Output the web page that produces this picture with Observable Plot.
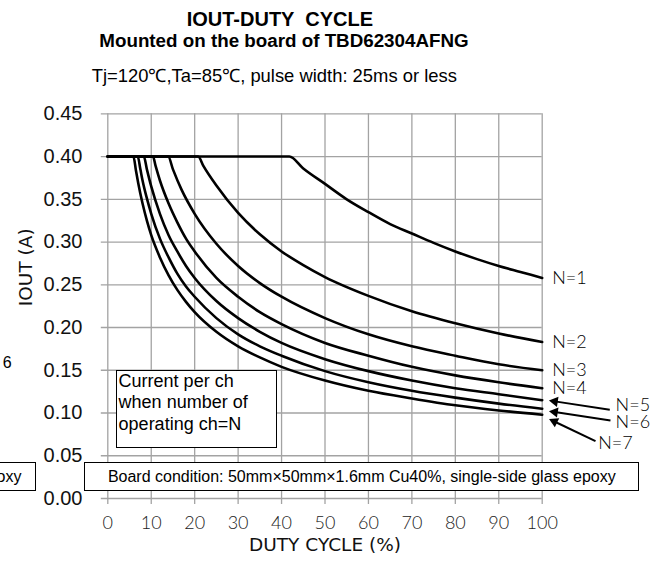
<!DOCTYPE html>
<html>
<head>
<meta charset="utf-8">
<script src="https://cdn.jsdelivr.net/npm/d3@7"></script>
<script src="https://cdn.jsdelivr.net/npm/@observablehq/plot@0.6"></script>
<style>
  html, body { margin: 0; padding: 0; background: #fff; }
  #wrap { position: relative; width: 672px; height: 562px; overflow: hidden;
          font-family: "Liberation Sans", Arial, sans-serif; color: #000; background: #fff; }
  #head { position: relative; height: 92px; }
  .t { position: absolute; white-space: pre; line-height: 0.85; }
  .box { position: absolute; box-sizing: border-box; border: 1.7px solid #000; background: #fff;
         white-space: nowrap; }
  svg { display: block; }
</style>
</head>
<body>
<div id="wrap">
  <div id="head">
    <div class="t" style="left:186.7px; top:11.1px; font-size:20px; font-weight:bold;">IOUT-DUTY  CYCLE</div>
    <div class="t" style="left:99.3px; top:32.5px; font-size:18.8px; font-weight:bold;">Mounted on the board of TBD62304AFNG</div>
    <div class="t" style="left:91.7px; top:68.3px; font-size:18.4px;">Tj=120℃,Ta=85℃, pulse width: 25ms or less</div>
  </div>
</div>
<script>
// ---- data ----
const seriesN = [1, 2, 3, 4, 5, 6, 7];

const duty1 = [0, 41.8, 45, 50, 55, 60, 65, 70, 75, 80, 85, 90, 95, 100];
const iout1 = [0.40, 0.40, 0.386, 0.368, 0.350, 0.335, 0.321, 0.310, 0.299, 0.289, 0.280, 0.272, 0.265, 0.258];

const duty2 = [0, 20.8, 22, 25, 30, 35, 40, 45, 50, 60, 70, 80, 90, 100];
const iout2 = [0.40, 0.40, 0.389, 0.366, 0.334, 0.309, 0.289, 0.273, 0.259, 0.237, 0.219, 0.205, 0.193, 0.183];

const duty3 = [0, 13.9, 15, 17, 20, 25, 30, 35, 40, 50, 60, 70, 80, 90, 100];
const iout3 = [0.40, 0.40, 0.385, 0.361, 0.333, 0.298, 0.272, 0.252, 0.236, 0.211, 0.192, 0.178, 0.167, 0.157, 0.150];

const duty4 = [0, 10.4, 11, 12, 14, 16, 18, 20, 25, 30, 35, 40, 50, 60, 70, 80, 90, 100];
const iout4 = [0.40, 0.40, 0.389, 0.372, 0.345, 0.323, 0.304, 0.289, 0.258, 0.236, 0.218, 0.204, 0.182, 0.167, 0.154, 0.144, 0.136, 0.129];

const duty5 = [0, 8.3, 9, 10, 12, 14, 16, 18, 20, 25, 30, 35, 40, 50, 60, 70, 80, 90, 100];
const iout5 = [0.40, 0.40, 0.385, 0.365, 0.333, 0.308, 0.289, 0.272, 0.258, 0.231, 0.211, 0.195, 0.182, 0.163, 0.149, 0.138, 0.129, 0.122, 0.115];

const duty6 = [0, 6.9, 7.5, 8, 9, 10, 12, 14, 16, 18, 20, 25, 30, 35, 40, 50, 60, 70, 80, 90, 100];
const iout6 = [0.40, 0.40, 0.385, 0.372, 0.351, 0.333, 0.304, 0.282, 0.263, 0.248, 0.236, 0.211, 0.192, 0.178, 0.167, 0.149, 0.136, 0.126, 0.118, 0.111, 0.105];

const duty7 = [0, 5.9, 6.5, 7, 8, 9, 10, 12, 14, 16, 18, 20, 25, 30, 35, 40, 50, 60, 70, 80, 90, 100];
const iout7 = [0.40, 0.40, 0.383, 0.369, 0.345, 0.325, 0.308, 0.282, 0.261, 0.244, 0.230, 0.218, 0.195, 0.178, 0.165, 0.154, 0.138, 0.126, 0.117, 0.109, 0.103, 0.098];

const xTicks = [0, 10, 20, 30, 40, 50, 60, 70, 80, 90, 100];
const yTicks = [0, 0.05, 0.10, 0.15, 0.20, 0.25, 0.30, 0.35, 0.40, 0.45];

const xLabel = "DUTY CYCLE (%)";
const yLabel = "IOUT (A)";
const noteText = ["Current per ch", "when number of", "operating ch=N"];
const boardText = "Board condition: 50mm×50mm×1.6mm Cu40%, single-side glass epoxy";

// ---- build table ----
const dutyAll = [duty1, duty2, duty3, duty4, duty5, duty6, duty7];
const ioutAll = [iout1, iout2, iout3, iout4, iout5, iout6, iout7];
const rows = seriesN.flatMap((n, i) => dutyAll[i].map((d, j) => ({n, duty: d, iout: ioutAll[i][j]})));
const ends = seriesN.map((n, i) => ({n, duty: dutyAll[i].at(-1), iout: ioutAll[i].at(-1)}));

// callouts with arrows for the crowded lower curves (annotation layout, data units)
const callouts = [
  {n: 5, tx: 115.56, ty: 0.1037, hx: 102.9, hy: 0.1136, lx: 116.9, ly: 0.1088, rot: -81.3},
  {n: 6, tx: 115.72, ty: 0.0912, hx: 102.9, hy: 0.1011, lx: 116.9, ly: 0.0892, rot: -81.4},
  {n: 7, tx: 112.27, ty: 0.0670, hx: 102.8, hy: 0.0901, lx: 112.9, ly: 0.0649, rot: -64.4}
];

const grid = "#a3a3a3";
const labFont = "Lato, 'Liberation Sans', sans-serif";

const chart = Plot.plot({
  width: 672,
  height: 470,
  marginTop: 21.3,
  marginBottom: 64,
  marginLeft: 107.3,
  marginRight: 130.3,
  style: {background: "white", fontFamily: "'Liberation Sans', Arial, sans-serif", overflow: "visible"},
  x: {domain: [0, 100], label: null},
  y: {domain: [0, 0.45], label: null},
  marks: [
    Plot.ruleX(xTicks, {x: d => d, stroke: grid, strokeWidth: 1.3, insetBottom: -6}),
    Plot.ruleY(yTicks, {y: d => d, stroke: grid, strokeWidth: 1.3, insetLeft: -6.5}),
    Plot.axisX({ticks: xTicks, tickSize: 0, tickPadding: 17.3, fontSize: 18, fontFamily: labFont, fontWeight: 300, fill: "#222", label: null}),
    Plot.axisY({ticks: yTicks, tickSize: 0, tickPadding: 25.3, tickFormat: d3.format(".2f"), fontSize: 20, fontFamily: "'Liberation Sans', Arial, sans-serif", fill: "#111", label: null}),
    Plot.line(rows, {x: "duty", y: "iout", z: "n", stroke: "#000", strokeWidth: 2.6, curve: "monotone-x", strokeLinejoin: "round"}),
    Plot.text(ends.filter(d => d.n <= 4), {x: "duty", y: "iout", text: d => "N=" + d.n, dx: 10, textAnchor: "start", fontSize: 18, fontFamily: labFont, fontWeight: 300, fill: "#000"}),
    Plot.link(callouts, {x1: "tx", y1: "ty", x2: "hx", y2: "hy", stroke: "#000", strokeWidth: 2}),
    Plot.dot(callouts, {x: "hx", y: "hy", symbol: "triangle", r: 3.8, fill: "#000", stroke: "none", rotate: "rot"}),
    Plot.text(callouts, {x: "lx", y: "ly", text: d => "N=" + d.n, textAnchor: "start", fontSize: 18, fontFamily: labFont, fontWeight: 300, fill: "#000"}),
    Plot.text([yLabel], {frameAnchor: "left", dx: -81.3, rotate: -90, fontSize: 18.5, fontFamily: "'DejaVu Sans', sans-serif", fill: "#111"}),
    Plot.text([xLabel], {frameAnchor: "bottom", dy: 52.5, fontSize: 18.5, fontFamily: "'DejaVu Sans', sans-serif", fill: "#111"})
  ]
});

const wrap = document.getElementById("wrap");
wrap.appendChild(chart);

// annotation boxes (page coordinates)
function addBox(style, html) {
  const d = document.createElement("div");
  d.className = "box";
  Object.assign(d.style, style);
  d.innerHTML = html;
  wrap.appendChild(d);
  return d;
}
addBox({left: "116px", top: "369.5px", width: "160.5px", height: "78.8px", fontSize: "18px",
        lineHeight: "21.7px", paddingLeft: "1.6px"}, noteText.join("<br>"));
addBox({left: "84.3px", top: "461.7px", width: "555px", height: "29.5px", fontSize: "16px",
        lineHeight: "24.1px", paddingTop: "2px", textAlign: "center"}, boardText);
// neighbouring panel remnants at the left edge of the reference crop
addBox({left: "-300px", top: "461.7px", width: "336px", height: "29.5px", fontSize: "16px",
        lineHeight: "24.1px", paddingTop: "2px", textAlign: "right", paddingRight: "13.5px"}, "single-side glass epoxy");
const six = document.createElement("div");
six.className = "t";
Object.assign(six.style, {left: "2.8px", top: "356px", fontSize: "16px"});
six.textContent = "6";
wrap.appendChild(six);
</script>
</body>
</html>
